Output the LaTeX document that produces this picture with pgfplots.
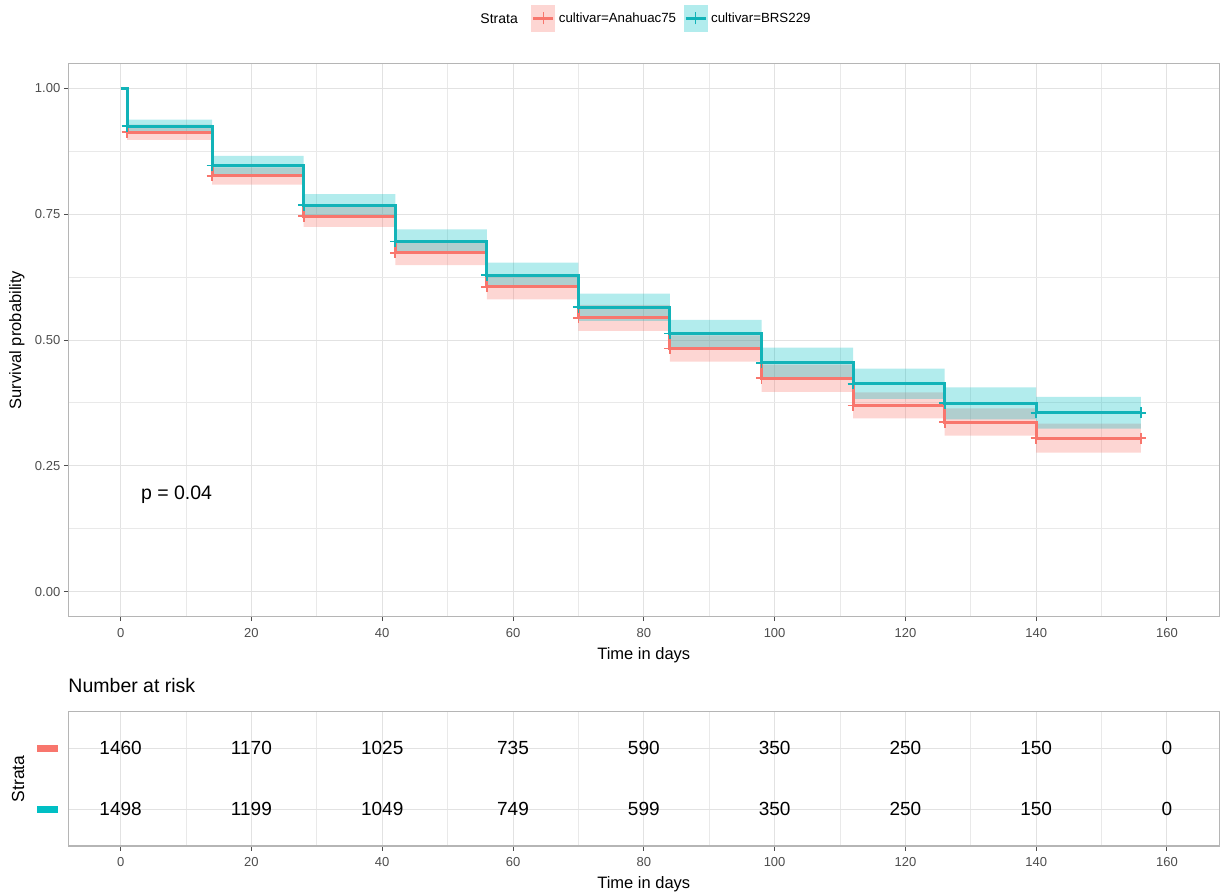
\documentclass[border=0pt]{standalone}
\usepackage{fontspec}
\setmainfont{Liberation Sans}
\usepackage{pgfplots}
\pgfplotsset{compat=1.18}
\usepackage{pgfplotstable}
\definecolor{cred}{HTML}{F8766D}
\definecolor{cteal}{HTML}{00BFC4}
\definecolor{ctealline}{HTML}{12B3B8}
\definecolor{gridc}{HTML}{E2E2E2}
\definecolor{borderc}{HTML}{B5B5B5}
\definecolor{tickc}{HTML}{4D4D4D}
\newcommand\fs[1]{\fontsize{#1}{#1}\selectfont}

\pgfplotstableread{
t s
0 1
1 0.925
14 0.847
28 0.768
42 0.696
56 0.629
70 0.565
84 0.513
98 0.455
112 0.413
126 0.374
140 0.355
156 0.355
}\tealdata

\pgfplotstableread{
t s
0 1
1 0.913
14 0.826
28 0.746
42 0.673
56 0.606
70 0.544
84 0.483
98 0.424
112 0.370
126 0.337
140 0.305
156 0.305
}\reddata

\pgfplotstableread{
t r n
0 2 1460
20 2 1170
40 2 1025
60 2 735
80 2 590
100 2 350
120 2 250
140 2 150
160 2 0
}\riskred

\pgfplotstableread{
t r n
0 1 1498
20 1 1199
40 1 1049
60 1 749
80 1 599
100 1 350
120 1 250
140 1 150
160 1 0
}\riskteal

\pgfplotsset{km/.style={
  scale only axis, width=1151pt,
  xmin=-8, xmax=168, xtick={0,20,...,160}, minor x tick num=1,
  grid=both,
  major grid style={gridc, line width=1pt},
  minor grid style={gridc!75, line width=0.8pt},
  axis line style={borderc, line width=1.1pt},
  tick align=outside, major tick length=4.5pt, minor tick length=0pt,
  tick style={tickc, line width=1pt},
  xtick pos=bottom, ytick pos=left,
  /pgf/number format/assume math mode=true,
  every tick label/.append style={font=\fs{13}, text=tickc},
  xticklabel style={yshift=-3.5pt},
  label style={font=\fs{16.5}, text=black},
}}

\begin{document}
\begin{tikzpicture}
\path[use as bounding box] (0pt,0pt) rectangle (1221pt,-892pt);

\begin{axis}[km,
  at={(68.3pt,-616.7pt)}, anchor=south west, height=553.4pt,
  ymin=-0.05, ymax=1.05, ytick={0,0.25,0.5,0.75,1}, minor y tick num=1,
  yticklabel style={/pgf/number format/.cd, fixed, fixed zerofill, precision=2},
  xlabel={Time in days}, ylabel={Survival probability},
  xlabel style={at={(axis description cs:0.5,-0.0692)}, anchor=center},
  ylabel style={at={(axis description cs:-0.0446,0.5)}, anchor=center},
  legend style={at={(axis description cs:0.4022,1.081)}, anchor=west, draw=none, fill=none,
    inner sep=0pt, legend columns=2, font=\fs{13.3},
    nodes={inner sep=3.5pt},
    /tikz/every even column/.append style={column sep=4pt}},
  legend cell align=left,
]
% confidence bands
\addplot[fill=cred, fill opacity=0.3, draw=none, forget plot] coordinates {
(0,1) (1,1) (1,0.928) (14,0.928) (14,0.843) (28,0.843) (28,0.767) (42,0.767) (42,0.697) (56,0.697) (56,0.631) (70,0.631) (70,0.570) (84,0.570) (84,0.509) (98,0.509) (98,0.451) (112,0.451) (112,0.396) (126,0.396) (126,0.364) (140,0.364) (140,0.334) (156,0.334)
(156,0.276) (140,0.276) (140,0.310) (126,0.310) (126,0.344) (112,0.344) (112,0.397) (98,0.397) (98,0.457) (84,0.457) (84,0.518) (70,0.518) (70,0.581) (56,0.581) (56,0.649) (42,0.649) (42,0.725) (28,0.725) (28,0.809) (14,0.809) (14,0.898) (1,0.898) (1,1)} -- cycle;
\addplot[fill=cteal, fill opacity=0.3, draw=none, forget plot] coordinates {
(0,1) (1,1) (1,0.938) (14,0.938) (14,0.866) (28,0.866) (28,0.790) (42,0.790) (42,0.720) (56,0.720) (56,0.654) (70,0.654) (70,0.592) (84,0.592) (84,0.540) (98,0.540) (98,0.485) (112,0.485) (112,0.443) (126,0.443) (126,0.406) (140,0.406) (140,0.387) (156,0.387)
(156,0.324) (140,0.324) (140,0.342) (126,0.342) (126,0.383) (112,0.383) (112,0.425) (98,0.425) (98,0.486) (84,0.486) (84,0.538) (70,0.538) (70,0.604) (56,0.604) (56,0.672) (42,0.672) (42,0.746) (28,0.746) (28,0.828) (14,0.828) (14,0.912) (1,0.912) (1,1)} -- cycle;
% survival curves
\addplot[cred, line width=3pt, const plot, mark=none,
  legend image code/.code={
    \path[draw=none, fill=cred, fill opacity=0.3] (0pt,-13.5pt) rectangle (24pt,13.5pt);
    \draw[cred, line width=2.6pt] (2pt,0pt) -- (22pt,0pt);
    \draw[cred, line width=1.6pt] (12pt,-6pt) -- (12pt,6pt);}
  ] table[x=t,y=s]{\reddata};
\addlegendentry{cultivar=Anahuac75}
\addplot[ctealline, line width=3pt, const plot, mark=none,
  legend image code/.code={
    \path[draw=none, fill=cteal, fill opacity=0.3] (0pt,-13.5pt) rectangle (24pt,13.5pt);
    \draw[ctealline, line width=2.6pt] (2pt,0pt) -- (22pt,0pt);
    \draw[ctealline, line width=1.6pt] (12pt,-6pt) -- (12pt,6pt);}
  ] table[x=t,y=s]{\tealdata};
\addlegendentry{cultivar=BRS229}
% censor marks
\addplot[cred, only marks, mark=+, mark size=5.5pt, mark options={line width=1.8pt},
  restrict x to domain=0.5:200, forget plot] table[x=t,y=s]{\reddata};
\addplot[ctealline, only marks, mark=+, mark size=5.5pt, mark options={line width=1.8pt},
  restrict x to domain=0.5:200, forget plot] table[x=t,y=s]{\tealdata};
\node[anchor=base west, inner sep=0pt, font=\fs{19.5}] at (axis cs:3.1,0.183) {p = 0.04};
\end{axis}

\node[anchor=east, font=\fs{14}, inner sep=0pt] at (518pt,-18.5pt) {Strata};

\begin{axis}[km,
  at={(68.3pt,-846pt)}, anchor=south west, height=134.3pt,
  ymin=0.4, ymax=2.6, ytick={1,2},
  yticklabels={{\textcolor{cteal}{\rule{21pt}{7.5pt}}},{\textcolor{cred}{\rule{21pt}{7.5pt}}}},
  y tick style={draw=none},
  yticklabel style={inner sep=0pt, xshift=-6pt},
  xlabel={Time in days}, ylabel={Strata},
  xlabel style={at={(axis description cs:0.5,-0.283)}, anchor=center},
  ylabel style={at={(axis description cs:-0.0436,0.5)}, anchor=center, font=\fs{17.5}},
  title={Number at risk},
  title style={at={(axis description cs:0,1.147)}, anchor=west, inner sep=0pt, font=\fs{19.5}},
]
\addplot[draw=none, mark=none, nodes near coords, point meta=explicit symbolic,
  every node near coord/.append style={anchor=center, font=\fs{19}, text=black}]
  table[x=t,y=r,meta=n]{\riskred};
\addplot[draw=none, mark=none, nodes near coords, point meta=explicit symbolic,
  every node near coord/.append style={anchor=center, font=\fs{19}, text=black}]
  table[x=t,y=r,meta=n]{\riskteal};
\end{axis}
\end{tikzpicture}
\end{document}
